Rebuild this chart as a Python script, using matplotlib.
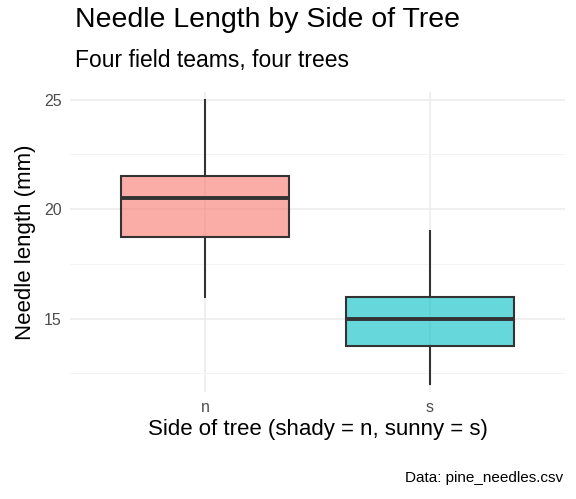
import matplotlib.pyplot as plt
from matplotlib.colors import to_rgba

sides = ["n", "s"]
q1 = [18.75, 13.75]
med = [20.5, 15.0]
q3 = [21.5, 16.0]
whislo = [16.0, 12.0]
whishi = [25.0, 19.0]
fills = ["#F8766D", "#00BFC4"]

plt.rcParams["font.family"] = ["Liberation Sans", "DejaVu Sans"]

fig = plt.figure(figsize=(5.76, 4.99), dpi=100)
ax = fig.add_axes([70 / 576, 107 / 499, 495 / 576, 300 / 499])

stats = [dict(label=s, q1=a, med=m, q3=b, whislo=lo, whishi=hi, fliers=[])
         for s, a, m, b, lo, hi in zip(sides, q1, med, q3, whislo, whishi)]
bp = ax.bxp(stats, positions=[1, 2], widths=0.75, patch_artist=True, showcaps=False,
            boxprops=dict(edgecolor="#333333", linewidth=1.5),
            medianprops=dict(color="#333333", linewidth=2.8),
            whiskerprops=dict(color="#333333", linewidth=1.5))
for patch, c in zip(bp["boxes"], fills):
    patch.set_facecolor(to_rgba(c, 0.6))
    patch.set_edgecolor("#333333")

ax.set_xlim(0.4, 2.6)
ax.set_ylim(11.65, 25.35)
ax.set_yticks([15, 20, 25])
ax.set_yticks([12.5, 17.5, 22.5], minor=True)
ax.grid(True, which="major", color="#EBEBEB", linewidth=1.1)
ax.grid(True, which="minor", axis="y", color="#F3F3F3", linewidth=0.6)
ax.set_axisbelow(True)
for sp in ax.spines.values():
    sp.set_visible(False)
ax.tick_params(which="both", length=0, labelsize=11.5, colors="#4D4D4D", pad=6)

ax.set_xlabel("Side of tree (shady = n, sunny = s)", fontsize=16, labelpad=3)
ax.set_ylabel("Needle length (mm)", fontsize=16, labelpad=6)

fig.text(75 / 576, 1 - 20 / 499, "Needle Length by Side of Tree", fontsize=20.5, va="center")
fig.text(75 / 576, 1 - 60 / 499, "Four field teams, four trees", fontsize=16.5, va="center")
fig.text(563 / 576, 1 - 478 / 499, "Data: pine_needles.csv", fontsize=11, ha="right", va="center")

fig.savefig("out.png", dpi=100)
